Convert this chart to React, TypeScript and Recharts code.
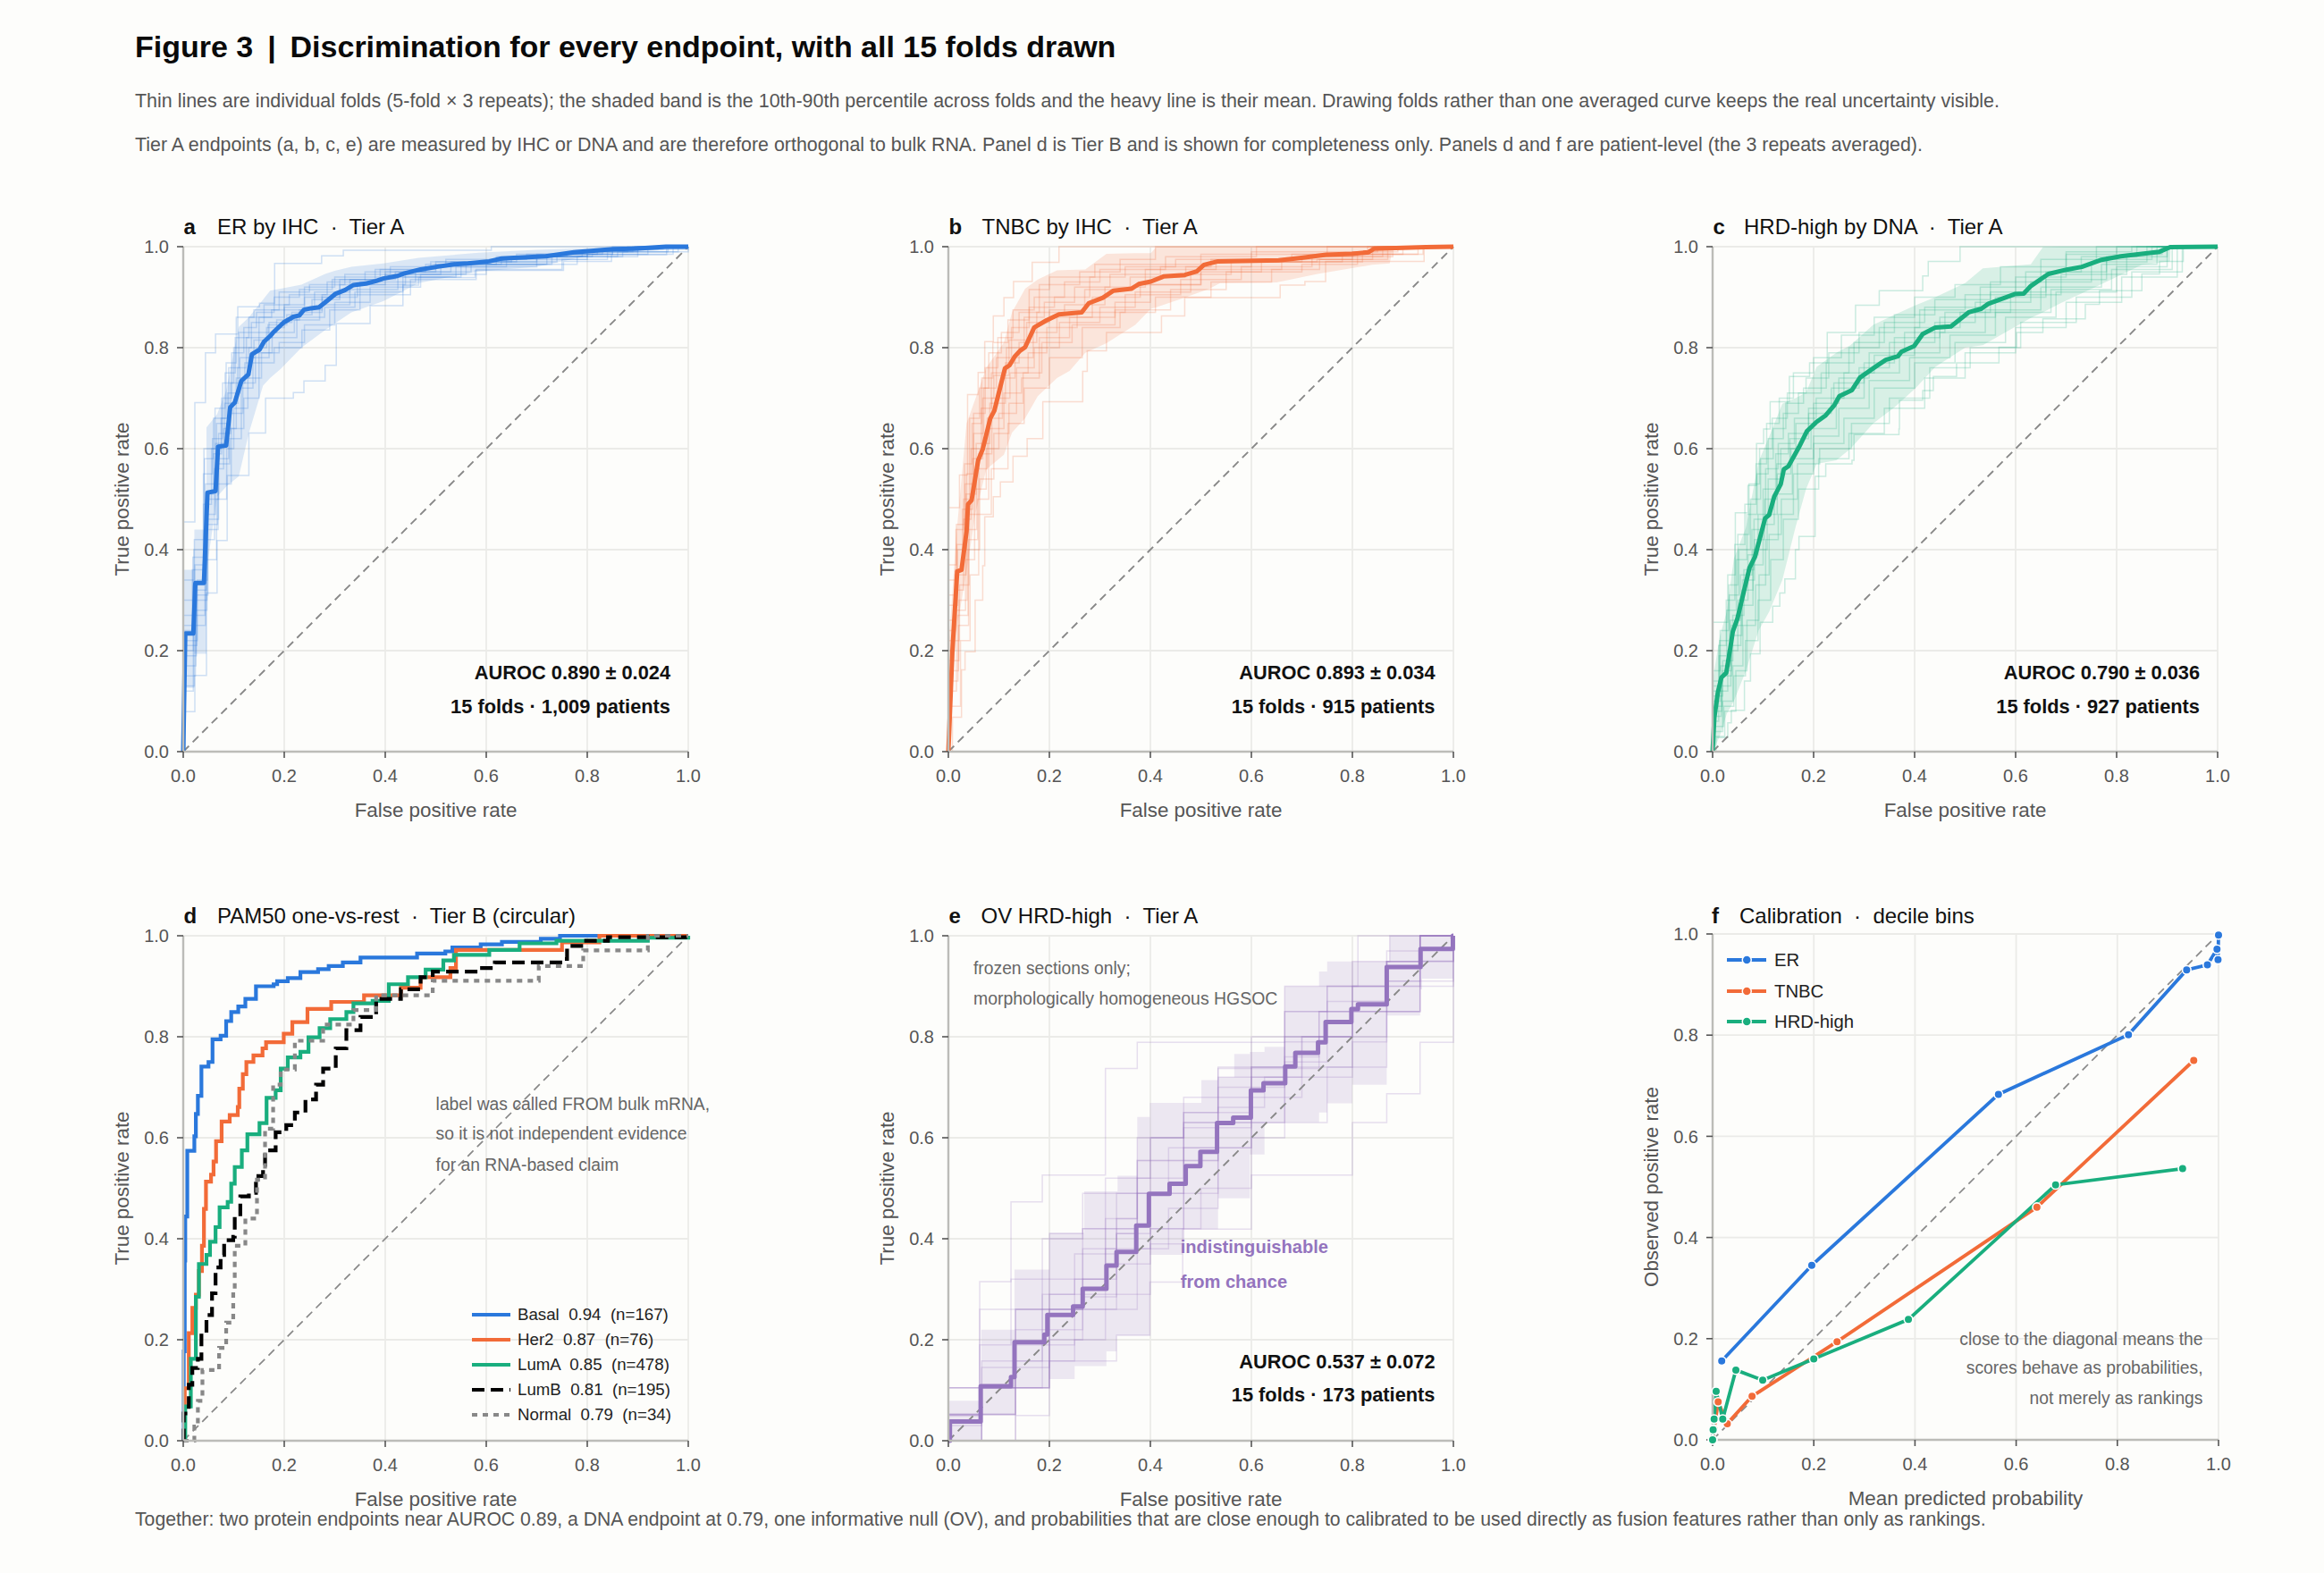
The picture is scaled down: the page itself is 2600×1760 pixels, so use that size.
import React from 'react';
import { ComposedChart, Line, Area, XAxis, YAxis, CartesianGrid } from 'recharts';

type Pair = number[];

const BLUE = '#2a78dc';
const ORANGE = '#f26b38';
const GREEN = '#19ae7e';
const PURPLE = '#9474be';
const FONT = '"Liberation Sans", Arial, sans-serif';

const axisTicks = [0, 0.2, 0.4, 0.6, 0.8, 1];
const diagonal: Pair[] = [[0, 0], [1, 1]];

// a: ER by IHC
const meanA: Pair[] = [[0,0],[.004,.234],[.020,.234],[.024,.334],[.041,.334],[.048,.513],[.064,.516],[.069,.604],[.085,.606],[.093,.682],[.102,.691],[.115,.734],[.129,.747],[.136,.787],[.144,.792],[.151,.796],[.160,.812],[.172,.823],[.178,.830],[.199,.850],[.218,.861],[.230,.864],[.239,.875],[.253,.878],[.269,.880],[.284,.892],[.302,.907],[.320,.914],[.337,.924],[.362,.927],[.382,.932],[.396,.937],[.424,.942],[.438,.947],[.470,.955],[.501,.960],[.536,.965],[.564,.967],[.606,.971],[.627,.976],[.655,.978],[.718,.981],[.746,.985],[.774,.989],[.802,.991],[.851,.995],[.893,.996],[.956,1],[1,1]];
const bandAX = [0,.022,.022,.046,.046,.067,.085,.11,.13,.158,.172,.193,.234,.281,.30,.333,.396,.466,.585,.70,.82,1];
const bandAHi = [.36,.36,.44,.44,.642,.668,.715,.841,.86,.895,.913,.917,.925,.946,.952,.96,.967,.978,.988,.994,.998,1];
const bandALo = [.126,.126,.194,.194,.357,.505,.525,.545,.631,.725,.74,.758,.80,.835,.848,.87,.892,.928,.951,.96,.986,.996];
const foldsA: Pair[][] = [
  [[0,.455],[.023,.691],[.044,.79],[.064,.827],[.108,.881],[.151,.888],[.181,.967],[.274,.982],[.317,.993],[.61,1],[1,1]],
  [[0,0],[.004,.079],[.023,.151],[.046,.314],[.067,.418],[.087,.547],[.13,.631],[.163,.70],[.218,.711],[.239,.734],[.281,.765],[.303,.848],[.37,.883],[.435,.924],[.466,.939],[.578,.953],[.753,.971],[.848,.984],[.957,1],[1,1]],
  [[0,.13],[.022,.27],[.043,.42],[.062,.56],[.08,.64],[.105,.74],[.13,.80],[.165,.84],[.2,.88],[.26,.91],[.33,.935],[.42,.95],[.53,.97],[.7,.985],[.85,.995],[.95,1],[1,1]],
  [[0,.2],[.02,.33],[.04,.49],[.056,.6],[.075,.66],[.09,.76],[.11,.83],[.15,.86],[.2,.885],[.24,.92],[.3,.94],[.39,.955],[.5,.97],[.65,.98],[.8,.99],[.9,1],[1,1]],
  [[0,.24],[.018,.36],[.044,.53],[.066,.65],[.088,.71],[.112,.78],[.14,.815],[.17,.85],[.215,.87],[.275,.90],[.345,.925],[.44,.945],[.56,.965],[.72,.98],[.87,.99],[1,1]],
  [[0,.17],[.025,.30],[.047,.45],[.068,.53],[.095,.64],[.12,.70],[.15,.77],[.18,.80],[.235,.835],[.29,.875],[.35,.905],[.45,.935],[.58,.955],[.75,.975],[.84,.99],[.96,1],[1,1]],
  [[0,.30],[.021,.40],[.042,.58],[.06,.66],[.085,.77],[.105,.86],[.14,.875],[.19,.91],[.25,.925],[.32,.945],[.41,.96],[.52,.975],[.68,.985],[.82,.995],[.93,1],[1,1]],
  [[0,.22],[.028,.34],[.048,.50],[.07,.58],[.09,.67],[.118,.73],[.143,.79],[.176,.83],[.22,.855],[.27,.885],[.33,.915],[.425,.94],[.54,.96],[.7,.98],[.81,.985],[.97,1],[1,1]],
  [[0,.15],[.024,.25],[.044,.38],[.066,.50],[.086,.60],[.1,.68],[.128,.74],[.155,.79],[.19,.81],[.24,.845],[.3,.89],[.37,.92],[.47,.945],[.6,.965],[.78,.98],[.9,.995],[1,1]],
  [[0,.27],[.019,.385],[.04,.55],[.058,.62],[.078,.73],[.1,.80],[.135,.85],[.16,.885],[.21,.905],[.285,.93],[.36,.95],[.48,.965],[.62,.98],[.76,.99],[.88,1],[1,1]],
  [[0,.19],[.026,.32],[.046,.47],[.064,.61],[.082,.69],[.108,.76],[.125,.82],[.168,.845],[.205,.865],[.255,.895],[.31,.925],[.4,.945],[.51,.96],[.64,.975],[.8,.985],[.92,1],[1,1]],
  [[0,.25],[.023,.37],[.045,.51],[.06,.59],[.076,.70],[.096,.79],[.12,.84],[.145,.87],[.18,.90],[.23,.915],[.295,.935],[.38,.955],[.49,.97],[.66,.985],[.83,.995],[.94,1],[1,1]],
  [[0,.12],[.02,.28],[.047,.44],[.069,.57],[.092,.62],[.115,.72],[.138,.78],[.17,.82],[.225,.86],[.28,.88],[.34,.91],[.435,.94],[.55,.965],[.73,.98],[.86,.99],[.98,1],[1,1]],
  [[0,.34],[.022,.42],[.041,.60],[.063,.68],[.083,.75],[.103,.82],[.13,.86],[.175,.875],[.24,.90],[.31,.935],[.4,.95],[.5,.965],[.63,.98],[.79,.99],[.89,1],[1,1]],
  [[0,.21],[.027,.31],[.049,.46],[.07,.63],[.094,.73],[.122,.77],[.15,.83],[.185,.855],[.23,.875],[.275,.905],[.35,.93],[.46,.95],[.57,.97],[.74,.985],[.85,1],[1,1]],
];

// b: TNBC by IHC
const meanB: Pair[] = [[0,0],[.008,.2],[.0175,.357],[.026,.36],[.036,.436],[.039,.49],[.046,.498],[.059,.577],[.068,.599],[.083,.66],[.091,.675],[.112,.759],[.121,.765],[.131,.782],[.142,.794],[.152,.801],[.17,.84],[.194,.854],[.219,.866],[.264,.87],[.278,.888],[.306,.899],[.327,.913],[.363,.917],[.377,.926],[.401,.931],[.426,.941],[.468,.944],[.492,.951],[.506,.964],[.534,.971],[.654,.973],[.699,.978],[.748,.984],[.80,.986],[.832,.989],[.843,.996],[.945,.999],[1,1]];
const bandBX = [0,.015,.036,.054,.075,.11,.126,.152,.177,.215,.24,.271,.313,.37,.401,.412,.468,.517,.538,.65,.731,.839,.874,.88,1];
const bandBHi = [.2,.42,.65,.70,.76,.81,.87,.917,.935,.953,.954,.955,.986,.987,.987,1,1,1,1,1,1,1,1,1,1];
const bandBLo = [0,.234,.357,.473,.559,.588,.632,.66,.704,.74,.754,.79,.809,.845,.877,.88,.899,.917,.928,.929,.946,.964,.967,1,1];
const foldsB: Pair[][] = [
  [[0,.483],[.022,.548],[.038,.707],[.059,.751],[.072,.812],[.089,.863],[.11,.899],[.129,.931],[.166,.969],[.219,1],[1,1]],
  [[0,0],[.008,.068],[.026,.162],[.033,.198],[.053,.30],[.068,.368],[.072,.465],[.089,.505],[.103,.534],[.128,.585],[.156,.62],[.187,.693],[.266,.753],[.275,.794],[.313,.83],[.422,.863],[.468,.899],[.657,.924],[.706,.931],[.747,.971],[.942,1],[1,1]],
  [[0,.2],[.012,.32],[.03,.46],[.045,.6],[.065,.68],[.085,.75],[.115,.8],[.15,.86],[.19,.89],[.25,.92],[.32,.945],[.42,.96],[.52,.975],[.68,.985],[.83,1],[1,1]],
  [[0,.29],[.018,.4],[.036,.55],[.05,.63],[.07,.72],[.095,.78],[.125,.84],[.16,.88],[.21,.90],[.28,.94],[.35,.96],[.45,.975],[.6,.99],[.85,1],[1,1]],
  [[0,.12],[.016,.28],[.034,.38],[.052,.52],[.075,.6],[.1,.67],[.135,.76],[.17,.80],[.22,.85],[.3,.88],[.37,.91],[.48,.945],[.56,.97],[.73,.975],[.87,1],[1,1]],
  [[0,.34],[.015,.44],[.03,.5],[.042,.66],[.062,.72],[.08,.79],[.105,.83],[.14,.87],[.18,.925],[.26,.95],[.34,.975],[.41,1],[1,1]],
  [[0,.16],[.02,.25],[.04,.42],[.058,.5],[.08,.64],[.11,.71],[.145,.74],[.18,.82],[.24,.86],[.33,.89],[.4,.925],[.5,.95],[.62,.97],[.78,.985],[.9,1],[1,1]],
  [[0,.24],[.014,.36],[.028,.48],[.048,.58],[.068,.7],[.09,.745],[.12,.815],[.155,.85],[.2,.875],[.27,.915],[.36,.94],[.47,.96],[.6,.975],[.8,.99],[.89,1],[1,1]],
  [[0,.09],[.024,.22],[.043,.35],[.06,.47],[.085,.56],[.118,.65],[.15,.72],[.2,.78],[.265,.84],[.34,.87],[.41,.90],[.52,.93],[.64,.955],[.735,.975],[.84,1],[1,1]],
  [[0,.31],[.017,.41],[.033,.53],[.05,.67],[.073,.76],[.098,.82],[.128,.875],[.17,.90],[.23,.93],[.3,.955],[.43,.98],[.61,1],[1,1]],
  [[0,.18],[.021,.3],[.037,.44],[.056,.56],[.077,.66],[.107,.74],[.132,.78],[.168,.83],[.215,.86],[.285,.90],[.38,.925],[.5,.955],[.66,.97],[.82,.985],[.94,1],[1,1]],
  [[0,.26],[.013,.35],[.035,.51],[.055,.61],[.082,.69],[.113,.77],[.14,.81],[.175,.87],[.23,.885],[.31,.92],[.39,.955],[.53,.97],[.7,.98],[.86,1],[1,1]],
  [[0,.14],[.019,.27],[.039,.4],[.062,.54],[.09,.63],[.12,.69],[.148,.75],[.185,.81],[.245,.845],[.33,.875],[.44,.915],[.55,.95],[.7,.965],[.81,.985],[.93,1],[1,1]],
  [[0,.37],[.016,.45],[.032,.57],[.047,.65],[.066,.74],[.088,.81],[.118,.855],[.16,.915],[.2,.94],[.29,.965],[.5,.985],[.75,1],[1,1]],
  [[0,.22],[.022,.33],[.041,.47],[.06,.59],[.086,.7],[.122,.75],[.158,.79],[.195,.84],[.255,.87],[.35,.905],[.46,.935],[.58,.96],[.72,.98],[.88,1],[1,1]],
];

// c: HRD-high by DNA
const meanC: Pair[] = [[0,0],[.0035,.068],[.0105,.118],[.0175,.147],[.027,.156],[.035,.205],[.04,.238],[.049,.263],[.073,.364],[.084,.386],[.104,.462],[.112,.469],[.122,.505],[.135,.53],[.141,.559],[.15,.565],[.171,.603],[.187,.635],[.206,.653],[.224,.666],[.241,.686],[.251,.704],[.276,.716],[.292,.741],[.325,.764],[.343,.776],[.367,.783],[.374,.792],[.399,.803],[.416,.827],[.441,.84],[.472,.842],[.507,.87],[.532,.877],[.546,.887],[.598,.906],[.616,.907],[.63,.922],[.665,.946],[.703,.955],[.731,.96],[.77,.974],[.808,.981],[.85,.986],[.885,.99],[.906,.999],[1,1]];
const bandCX = [0,.014,.028,.042,.066,.091,.112,.138,.164,.185,.206,.245,.273,.318,.36,.402,.441,.5,.535,.63,.654,.689,.766,.85,.906,.907,1];
const bandCHi = [.14,.227,.277,.382,.444,.574,.624,.689,.70,.711,.762,.79,.805,.845,.865,.884,.90,.928,.957,.965,.999,1,1,1,1,1,1];
const bandCLo = [0,.03,.075,.10,.16,.24,.277,.34,.444,.52,.57,.577,.60,.65,.682,.72,.762,.80,.805,.859,.87,.888,.924,.964,.971,1,1];
const foldsC: Pair[][] = [
  [[0,.256],[.03,.35],[.045,.473],[.07,.527],[.087,.61],[.101,.639],[.114,.693],[.152,.743],[.192,.77],[.227,.83],[.283,.884],[.33,.913],[.416,.942],[.427,.971],[.49,1],[1,1]],
  [[0,0],[.007,.028],[.03,.057],[.037,.082],[.063,.14],[.075,.194],[.094,.256],[.119,.288],[.133,.314],[.143,.342],[.164,.40],[.171,.426],[.203,.545],[.224,.57],[.276,.577],[.28,.628],[.369,.639],[.37,.696],[.416,.715],[.437,.743],[.483,.77],[.567,.801],[.602,.83],[.654,.857],[.738,.886],[.766,.913],[.85,.946],[.885,.971],[.932,1],[1,1]],
  [[0,.06],[.012,.12],[.03,.2],[.05,.3],[.07,.39],[.09,.47],[.11,.54],[.135,.6],[.165,.65],[.2,.69],[.25,.74],[.31,.79],[.38,.83],[.46,.87],[.55,.91],[.66,.95],[.78,.98],[.9,1],[1,1]],
  [[0,.1],[.016,.17],[.035,.26],[.055,.35],[.078,.44],[.1,.52],[.125,.59],[.15,.63],[.19,.67],[.235,.72],[.29,.76],[.35,.81],[.44,.85],[.52,.89],[.63,.93],[.75,.97],[.86,1],[1,1]],
  [[0,.04],[.02,.1],[.04,.17],[.06,.25],[.085,.33],[.105,.42],[.13,.47],[.16,.55],[.2,.61],[.26,.66],[.32,.72],[.4,.77],[.48,.81],[.58,.86],[.68,.91],[.8,.96],[.9,1],[1,1]],
  [[0,.14],[.014,.22],[.033,.31],[.052,.4],[.075,.5],[.095,.58],[.12,.64],[.145,.69],[.18,.72],[.225,.77],[.28,.81],[.34,.85],[.42,.88],[.53,.92],[.62,.95],[.73,.98],[.84,1],[1,1]],
  [[0,.08],[.018,.15],[.038,.23],[.058,.32],[.08,.4],[.108,.47],[.128,.55],[.155,.6],[.195,.64],[.245,.70],[.3,.75],[.37,.79],[.45,.83],[.54,.875],[.65,.92],[.77,.965],[.88,1],[1,1]],
  [[0,.12],[.013,.19],[.028,.28],[.047,.38],[.068,.47],[.088,.55],[.11,.62],[.14,.67],[.17,.71],[.215,.75],[.27,.80],[.33,.84],[.41,.875],[.5,.905],[.6,.94],[.7,.985],[.8,1],[1,1]],
  [[0,.05],[.022,.09],[.042,.15],[.065,.22],[.09,.3],[.115,.38],[.14,.46],[.17,.52],[.21,.58],[.27,.63],[.34,.68],[.42,.74],[.5,.79],[.6,.84],[.7,.89],[.81,.94],[.92,1],[1,1]],
  [[0,.16],[.015,.24],[.032,.33],[.05,.43],[.072,.53],[.093,.6],[.118,.66],[.148,.71],[.185,.74],[.23,.79],[.29,.83],[.36,.865],[.44,.895],[.55,.93],[.65,.975],[.76,1],[1,1]],
  [[0,.07],[.017,.13],[.036,.21],[.056,.29],[.08,.37],[.1,.45],[.122,.51],[.158,.58],[.2,.625],[.25,.68],[.31,.735],[.39,.78],[.47,.825],[.56,.87],[.67,.915],[.79,.955],[.91,1],[1,1]],
  [[0,.11],[.02,.18],[.04,.27],[.062,.36],[.082,.46],[.105,.56],[.13,.61],[.162,.66],[.205,.7],[.26,.75],[.32,.785],[.4,.84],[.49,.87],[.59,.905],[.69,.945],[.82,.985],[.89,1],[1,1]],
  [[0,.03],[.024,.08],[.046,.16],[.068,.26],[.092,.35],[.112,.43],[.136,.5],[.168,.57],[.212,.6],[.275,.65],[.35,.7],[.43,.76],[.51,.80],[.61,.85],[.72,.9],[.83,.95],[.93,1],[1,1]],
  [[0,.13],[.012,.21],[.027,.3],[.044,.41],[.064,.49],[.086,.57],[.107,.65],[.132,.7],[.16,.75],[.2,.78],[.255,.825],[.32,.86],[.4,.9],[.48,.925],[.57,.96],[.7,.99],[.83,1],[1,1]],
  [[0,.09],[.019,.16],[.037,.25],[.059,.34],[.083,.42],[.103,.5],[.127,.57],[.153,.62],[.19,.68],[.24,.73],[.3,.77],[.36,.82],[.45,.86],[.56,.9],[.66,.935],[.78,.975],[.87,1],[1,1]],
];

// d: PAM50 one-vs-rest
const basal: Pair[] = [[0,0],[.001,.177],[.003,.357],[.004,.444],[.008,.574],[.022,.603],[.025,.647],[.029,.683],[.036,.741],[.05,.75],[.058,.795],[.074,.802],[.085,.831],[.095,.849],[.109,.86],[.123,.875],[.144,.90],[.179,.904],[.186,.91],[.207,.916],[.232,.928],[.267,.934],[.288,.94],[.316,.947],[.351,.957],[.463,.965],[.519,.969],[.533,.977],[.589,.983],[.631,.988],[.708,.994],[.746,1],[1,1]];
const her2: Pair[] = [[0,0],[.003,.104],[.011,.213],[.018,.263],[.025,.289],[.031,.336],[.037,.386],[.041,.459],[.045,.513],[.055,.527],[.06,.553],[.065,.593],[.076,.632],[.092,.645],[.108,.661],[.111,.697],[.118,.726],[.125,.75],[.139,.763],[.157,.777],[.164,.789],[.199,.806],[.216,.829],[.246,.855],[.293,.869],[.358,.882],[.431,.897],[.47,.918],[.529,.936],[.54,.972],[.75,.987],[.824,1],[1,1]];
const lumA: Pair[] = [[0,0],[.004,.068],[.015,.162],[.025,.285],[.031,.35],[.046,.368],[.053,.394],[.064,.423],[.072,.462],[.088,.473],[.095,.509],[.102,.542],[.116,.575],[.127,.607],[.151,.629],[.165,.679],[.183,.694],[.193,.737],[.207,.759],[.232,.77],[.248,.799],[.27,.817],[.291,.835],[.323,.849],[.337,.866],[.375,.871],[.407,.904],[.445,.918],[.48,.933],[.515,.951],[.536,.962],[.606,.972],[.666,.985],[.739,.99],[.92,.996],[1,1]];
const lumB: Pair[] = [[0,0],[.001,.054],[.011,.111],[.018,.144],[.029,.162],[.036,.213],[.046,.249],[.057,.292],[.064,.343],[.074,.368],[.081,.397],[.099,.404],[.102,.444],[.113,.484],[.13,.491],[.144,.524],[.158,.546],[.162,.575],[.183,.611],[.204,.625],[.221,.65],[.242,.676],[.263,.705],[.277,.737],[.302,.777],[.323,.813],[.351,.839],[.382,.875],[.431,.894],[.47,.918],[.494,.929],[.585,.936],[.617,.947],[.753,.954],[.76,.98],[.788,.99],[.841,.997],[1,1]];
const normal: Pair[] = [[0,0],[.022,.028],[.029,.079],[.038,.14],[.071,.184],[.085,.234],[.099,.296],[.102,.386],[.123,.44],[.146,.517],[.162,.618],[.178,.705],[.193,.735],[.221,.792],[.277,.824],[.337,.853],[.382,.882],[.494,.911],[.704,.94],[.792,.971],[.92,1],[1,1]];
const pamNames = ['Basal', 'Her2', 'LumA', 'LumB', 'Normal'];
const pamLabels = ['Basal  0.94  (n=167)', 'Her2  0.87  (n=76)', 'LumA  0.85  (n=478)', 'LumB  0.81  (n=195)', 'Normal  0.79  (n=34)'];

// e: OV HRD-high
const meanE: Pair[] = [[0,0],[.003,.038],[.064,.108],[.124,.126],[.131,.195],[.19,.21],[.196,.249],[.247,.266],[.266,.301],[.313,.347],[.333,.374],[.372,.426],[.397,.489],[.438,.509],[.47,.544],[.499,.572],[.532,.629],[.564,.64],[.599,.694],[.624,.708],[.667,.741],[.687,.768],[.732,.789],[.747,.829],[.798,.855],[.811,.864],[.868,.938],[.935,.974],[.999,1],[1,1]];
const bandEX = [0,.065,.067,.131,.133,.2,.25,.269,.313,.333,.335,.374,.399,.464,.501,.534,.566,.597,.626,.666,.734,.75,.8,.868,.874,.934,.938,1];
const bandEHi = [.079,.22,.22,.339,.339,.412,.412,.494,.494,.494,.525,.641,.669,.669,.714,.72,.766,.77,.78,.90,.929,.949,.949,.949,1,1,1,1];
const bandELo = [0,0,.05,.05,.104,.122,.148,.148,.177,.209,.209,.209,.368,.419,.419,.48,.48,.567,.631,.631,.65,.668,.705,.842,.842,.894,.915,.915];
const foldsE: Pair[][] = [
  [[0,.05],[.062,.315],[.124,.473],[.186,.526],[.311,.737],[.374,.789],[.666,.90],[.811,1],[1,1]],
  [[0,0],[.133,.05],[.2,.158],[.333,.209],[.399,.314],[.464,.419],[.6,.526],[.8,.63],[.868,.687],[.934,.789],[1,1]],
  [[0,.052],[.066,.105],[.131,.145],[.2,.32],[.266,.38],[.333,.49],[.4,.60],[.466,.63],[.534,.70],[.6,.74],[.666,.79],[.734,.85],[.8,.90],[.868,.949],[.934,1],[1,1]],
  [[0,.105],[.062,.26],[.133,.26],[.186,.4],[.266,.42],[.374,.555],[.466,.65],[.534,.72],[.6,.74],[.7,.80],[.8,.87],[.868,.949],[.934,1],[1,1]],
  [[0,.05],[.066,.158],[.133,.22],[.2,.26],[.266,.32],[.311,.52],[.4,.60],[.466,.65],[.534,.68],[.6,.72],[.666,.75],[.75,.87],[.868,.91],[.934,1],[1,1]],
  [[0,0],[.066,.052],[.133,.158],[.186,.29],[.25,.37],[.333,.44],[.374,.555],[.466,.63],[.534,.66],[.626,.72],[.666,.85],[.75,.90],[.868,.97],[.934,1],[1,1]],
  [[0,.052],[.133,.105],[.2,.26],[.266,.285],[.333,.41],[.4,.49],[.466,.555],[.534,.62],[.6,.68],[.7,.74],[.8,.79],[.868,.90],[1,1]],
  [[0,.105],[.133,.26],[.266,.42],[.374,.49],[.436,.58],[.534,.63],[.6,.737],[.666,.80],[.8,.85],[.868,.949],[.934,1],[1,1]],
  [[0,0],[.066,.105],[.133,.19],[.25,.26],[.311,.29],[.4,.39],[.466,.49],[.534,.58],[.6,.63],[.666,.737],[.734,.80],[.8,.90],[.868,.91],[1,1]],
  [[0,.03],[.066,.105],[.133,.158],[.2,.22],[.266,.32],[.333,.41],[.374,.49],[.466,.555],[.534,.65],[.6,.72],[.7,.80],[.8,.85],[.934,.949],[1,1]],
  [[0,.052],[.066,.145],[.133,.26],[.2,.29],[.311,.38],[.4,.42],[.466,.58],[.534,.63],[.6,.70],[.666,.76],[.734,.85],[.868,.90],[.934,1],[1,1]],
  [[0,0],[.133,.105],[.2,.158],[.25,.20],[.311,.26],[.374,.38],[.436,.46],[.534,.58],[.6,.63],[.666,.72],[.8,.74],[.868,.85],[.934,.95],[1,1]],
  [[0,.052],[.066,.105],[.186,.26],[.25,.32],[.311,.44],[.374,.60],[.466,.68],[.534,.737],[.6,.80],[.75,.90],[.868,.949],[.934,1],[1,1]],
  [[0,0],[.066,.052],[.133,.105],[.2,.2],[.266,.26],[.333,.35],[.4,.42],[.5,.50],[.6,.60],[.666,.63],[.75,.74],[.8,.80],[.868,.85],[.934,.949],[1,1]],
  [[0,.105],[.062,.19],[.124,.32],[.2,.41],[.266,.49],[.374,.52],[.466,.62],[.534,.74],[.666,.85],[.8,.949],[.874,1],[1,1]],
];

// f: calibration
const calER: Pair[] = [[.018,.156],[.196,.345],[.565,.683],[.822,.801],[.937,.929],[.978,.939],[.997,.97],[.999,.949],[1,.998]];
const calTNBC: Pair[] = [[.0,.0],[.003,.021],[.011,.075],[.029,.032],[.078,.086],[.246,.194],[.641,.46],[.951,.75]];
const calHRD: Pair[] = [[0,0],[.001,.02],[.003,.041],[.007,.096],[.02,.041],[.046,.138],[.099,.118],[.2,.16],[.387,.238],[.678,.504],[.929,.536]];

const toPoints = (pairs: Pair[]) => pairs.map(([x, y]) => ({ x, y }));
const toBand = (xs: number[], lo: number[], hi: number[]) => xs.map((x, i) => ({ x, range: [lo[i], hi[i]] }));

const M = { left: 120, right: 30, top: 30, bottom: 100 };

const Frame = ({ left, top, size, children }: any) => (
  <div style={{ position: 'absolute', left: left - M.left, top: top - M.top }}>
    <ComposedChart
      width={M.left + size + M.right}
      height={M.top + size + M.bottom}
      margin={{ left: 40, right: M.right, top: M.top, bottom: 0 }}
    >
      <CartesianGrid stroke="#ebebe8" strokeWidth={1.8} />
      {children}
    </ComposedChart>
  </div>
);

// recharts needs axes as direct children, so these are plain element builders
const axes = (yLabel: string, xLabel: string) => [
  <XAxis
    key="x"
    type="number"
    dataKey="x"
    domain={[0, 1]}
    ticks={axisTicks}
    height={100}
    tickSize={7}
    tickMargin={13}
    interval={0}
    tickFormatter={(v: number) => v.toFixed(1)}
    tick={{ fill: '#555', fontSize: 20, fontFamily: FONT }}
    axisLine={{ stroke: '#bcbcb8', strokeWidth: 2.4 }}
    tickLine={{ stroke: '#555', strokeWidth: 1.6 }}
    label={{ value: xLabel, position: 'insideTop', offset: 57, fill: '#555', fontSize: 22.4, fontFamily: FONT }}
  />,
  <YAxis
    key="y"
    type="number"
    domain={[0, 1]}
    ticks={axisTicks}
    width={80}
    tickSize={7}
    tickMargin={9}
    interval={0}
    tickFormatter={(v: number) => v.toFixed(1)}
    tick={{ fill: '#555', fontSize: 20, fontFamily: FONT }}
    axisLine={{ stroke: '#bcbcb8', strokeWidth: 2.4 }}
    tickLine={{ stroke: '#555', strokeWidth: 1.6 }}
    label={{ value: yLabel, angle: -90, position: 'insideLeft', offset: 11, fill: '#555', fontSize: 22.4, fontFamily: FONT, style: { textAnchor: 'middle' } }}
  />,
];

const diagLine = (w = 1.9) => (
  <Line key="diag" data={toPoints(diagonal)} dataKey="y" stroke="#888" strokeWidth={w} strokeDasharray="9 6" dot={false} activeDot={false} isAnimationActive={false} legendType="none" />
);

const RocPanel = ({ left, top, size, color, band, folds, mean, step }: any) => (
  <Frame left={left} top={top} size={size}>
    {axes('True positive rate', 'False positive rate')}
    <Area data={band} dataKey="range" type={step ? 'stepAfter' : 'linear'} stroke="none" fill={color} fillOpacity={0.16} dot={false} activeDot={false} isAnimationActive={false} />
    {folds.map((f: Pair[], i: number) => (
      <Line key={i} data={toPoints(f)} dataKey="y" type="stepAfter" stroke={color} strokeOpacity={0.22} strokeWidth={1.5} dot={false} activeDot={false} isAnimationActive={false} />
    ))}
    {diagLine()}
    <Line data={toPoints(mean)} dataKey="y" type={step ? 'stepAfter' : 'linear'} stroke={color} strokeWidth={5} strokeLinejoin="round" dot={false} activeDot={false} isAnimationActive={false} />
  </Frame>
);

const Txt = ({ x, y, right, size = 19.3, color = '#666', bold, children }: any) => (
  <div
    style={{
      position: 'absolute',
      left: right === undefined ? x : undefined,
      right: right === undefined ? undefined : 2600 - right,
      top: y,
      transform: 'translateY(-50%)',
      fontFamily: FONT,
      fontSize: size,
      fontWeight: bold ? 700 : 400,
      color,
      lineHeight: 1.2,
      whiteSpace: 'pre',
    }}
  >
    {children}
  </div>
);

const PanelTitle = ({ letter, lx, tx, y, children }: any) => (
  <>
    <Txt x={lx} y={y} size={24} color="#111" bold>{letter}</Txt>
    <Txt x={tx} y={y} size={24} color="#111">{children}</Txt>
  </>
);

const Auroc = ({ right, y, a, b }: any) => (
  <>
    <Txt right={right} y={y} size={21.8} color="#111" bold>{a}</Txt>
    <Txt right={right} y={y + 37.5} size={21.8} color="#111" bold>{b}</Txt>
  </>
);

const LegendSwatch = ({ x, y, w, color, dash, sw = 4.2, dot }: any) => (
  <svg style={{ position: 'absolute', left: x, top: y - 10, width: w, height: 20 }}>
    <line x1={0} y1={10} x2={w} y2={10} stroke={color} strokeWidth={sw} strokeDasharray={dash} />
    {dot && <circle cx={w / 2} cy={10} r={5} fill={color} stroke="#fff" strokeWidth={1.5} />}
  </svg>
);

const pamColors = [BLUE, ORANGE, GREEN, '#000', '#888'];
const pamDash = [undefined, undefined, undefined, '14 7', '6 6'];
const pamRows = [1470.6, 1498.8, 1527, 1555, 1583];
const calNames = ['ER', 'TNBC', 'HRD-high'];
const calColors = [BLUE, ORANGE, GREEN];
const calRows = [1074, 1109, 1143];
const calSeries = [calER, calTNBC, calHRD];

const App = () => (
  <div style={{ position: 'absolute', left: 0, top: 0, width: 2600, height: 1760, background: '#fdfdfb', overflow: 'hidden' }}>
    <Txt x={151} y={52} size={34} color="#0a0a0a" bold>Figure 3  <span style={{ marginLeft: -3 }}>|</span>  <span style={{ marginLeft: -3 }}>Discrimination for every endpoint, with all 15 folds drawn</span></Txt>
    <Txt x={151} y={113.5} size={21.45} color="#555">Thin lines are individual folds (5-fold × 3 repeats); the shaded band is the 10th-90th percentile across folds and the heavy line is their mean. Drawing folds rather than one averaged curve keeps the real uncertainty visible.</Txt>
    <Txt x={151} y={162.5} size={21.4} color="#555">Tier A endpoints (a, b, c, e) are measured by IHC or DNA and are therefore orthogonal to bulk RNA. Panel d is Tier B and is shown for completeness only. Panels d and f are patient-level (the 3 repeats averaged).</Txt>

    <RocPanel left={205.3} top={276} size={565} color={BLUE} band={toBand(bandAX, bandALo, bandAHi)} folds={foldsA} mean={meanA} />
    <RocPanel left={1061} top={276} size={565} color={ORANGE} band={toBand(bandBX, bandBLo, bandBHi)} folds={foldsB} mean={meanB} />
    <RocPanel left={1915.7} top={276} size={565} color={GREEN} band={toBand(bandCX, bandCLo, bandCHi)} folds={foldsC} mean={meanC} />

    <Frame left={205.3} top={1046.5} size={565}>
      {axes('True positive rate', 'False positive rate')}
      {diagLine(1.7)}
      {[basal, her2, lumA, lumB, normal].map((s, i) => (
        <Line key={pamNames[i]} name={pamNames[i]} data={toPoints(s)} dataKey="y" type="stepAfter" stroke={pamColors[i]} strokeWidth={4.2} strokeDasharray={pamDash[i]} dot={false} activeDot={false} isAnimationActive={false} />
      ))}
    </Frame>

    <RocPanel left={1061} top={1046.5} size={565} color={PURPLE} band={toBand(bandEX, bandELo, bandEHi)} folds={foldsE} mean={meanE} step />

    <Frame left={1915.7} top={1045} size={566}>
      {axes('Observed positive rate', 'Mean predicted probability')}
      {diagLine(1.7)}
      {calSeries.map((s, i) => (
        <Line key={calNames[i]} name={calNames[i]} data={toPoints(s)} dataKey="y" stroke={calColors[i]} strokeWidth={3.8} dot={{ r: 4.8, fill: calColors[i], stroke: '#fff', strokeWidth: 1.6 }} activeDot={false} isAnimationActive={false} />
      ))}
    </Frame>

    <PanelTitle letter="a" lx={205.5} tx={243} y={254}>ER by IHC  ·  Tier A</PanelTitle>
    <PanelTitle letter="b" lx={1061.5} tx={1098.5} y={254}>TNBC by IHC  ·  Tier A</PanelTitle>
    <PanelTitle letter="c" lx={1916.5} tx={1951} y={254}>HRD-high by DNA  ·  Tier A</PanelTitle>
    <PanelTitle letter="d" lx={205.5} tx={243} y={1024.5}>PAM50 one-vs-rest  ·  Tier B (circular)</PanelTitle>
    <PanelTitle letter="e" lx={1061.5} tx={1097.5} y={1024.5}>OV HRD-high  ·  Tier A</PanelTitle>
    <PanelTitle letter="f" lx={1915} tx={1946} y={1024.5}>Calibration  ·  decile bins</PanelTitle>

    <Auroc right={750} y={753} a="AUROC 0.890 ± 0.024" b="15 folds · 1,009 patients" />
    <Auroc right={1605.5} y={753} a="AUROC 0.893 ± 0.034" b="15 folds · 915 patients" />
    <Auroc right={2461} y={753} a="AUROC 0.790 ± 0.036" b="15 folds · 927 patients" />
    <Auroc right={1605.5} y={1523.7} a="AUROC 0.537 ± 0.072" b="15 folds · 173 patients" />

    <Txt x={487.6} y={1236}>label was called FROM bulk mRNA,</Txt>
    <Txt x={487.6} y={1269}>so it is not independent evidence</Txt>
    <Txt x={487.6} y={1303.6}>for an RNA-based claim</Txt>
    {pamLabels.map((t, i) => (
      <React.Fragment key={t}>
        <LegendSwatch x={528} y={pamRows[i]} w={43} color={pamColors[i]} dash={pamDash[i]} />
        <Txt x={579} y={pamRows[i]} size={18.7} color="#222">{t}</Txt>
      </React.Fragment>
    ))}

    <Txt x={1089} y={1084}>frozen sections only;</Txt>
    <Txt x={1089} y={1117.5} size={19.45}>morphologically homogeneous HGSOC</Txt>
    <Txt x={1320.7} y={1395} size={20.1} color={PURPLE} bold>indistinguishable</Txt>
    <Txt x={1320.7} y={1433.5} size={20.1} color={PURPLE} bold>from chance</Txt>

    {calNames.map((t, i) => (
      <React.Fragment key={t}>
        <LegendSwatch x={1931.5} y={calRows[i]} w={44.5} color={calColors[i]} dot />
        <Txt x={1985} y={calRows[i]} size={20.3} color="#222">{t}</Txt>
      </React.Fragment>
    ))}
    <Txt right={2464.5} y={1498.8}>close to the diagonal means the</Txt>
    <Txt right={2464.5} y={1531.4}>scores behave as probabilities,</Txt>
    <Txt right={2464.5} y={1564.5}>not merely as rankings</Txt>

    <Txt x={151} y={1700} size={21.2} color="#555">Together: two protein endpoints near AUROC 0.89, a DNA endpoint at 0.79, one informative null (OV), and probabilities that are close enough to calibrated to be used directly as fusion features rather than only as rankings.</Txt>
  </div>
);

export default App;
